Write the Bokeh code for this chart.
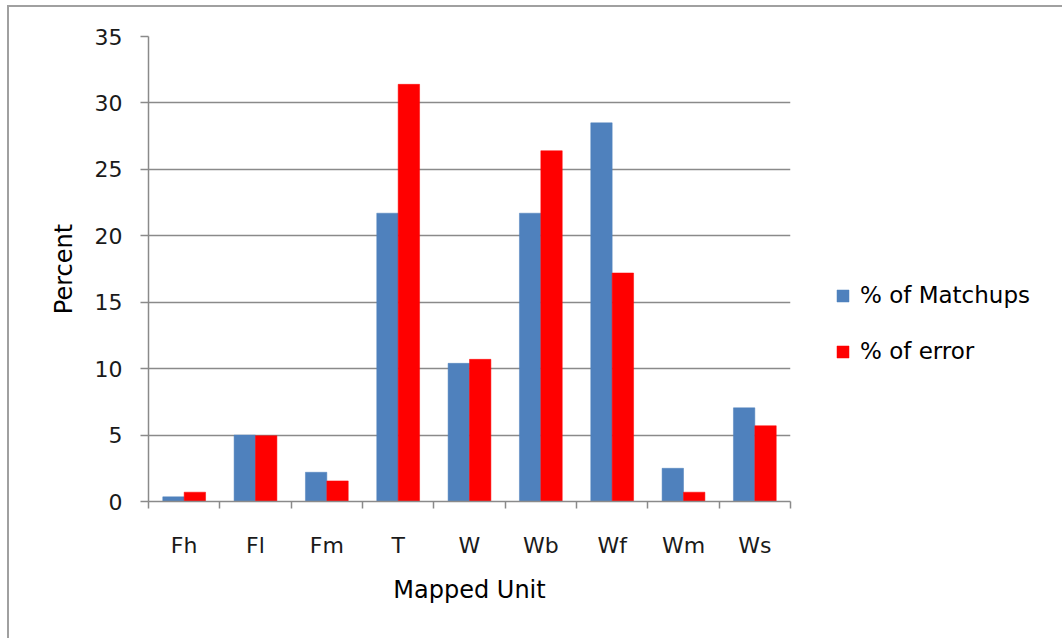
from bokeh.plotting import figure
from bokeh.models import (ColumnDataSource, Range1d, FixedTicker, Legend,
                          LegendItem)
from bokeh.transform import dodge
from bokeh.embed import file_html
from bokeh.resources import INLINE

# ---- data ----
categories = ["Fh", "Fl", "Fm", "T", "W", "Wb", "Wf", "Wm", "Ws"]
pct_matchups = [0.35, 5.0, 2.2, 21.7, 10.4, 21.7, 28.5, 2.5, 7.05]
pct_error = [0.7, 4.95, 1.55, 31.4, 10.7, 26.4, 17.2, 0.7, 5.7]
y_ticks = [0, 5, 10, 15, 20, 25, 30, 35]
series_names = ["% of Matchups", "% of error"]

BLUE = "#4F81BD"
RED = "#FF0000"
GRAY = "#8A8A8A"
FONT = "DejaVu Sans"

n = len(categories)
slot_centers = [i + 0.5 for i in range(n)]
slot_edges = list(range(n + 1))
src = ColumnDataSource(dict(x=slot_centers, cat=categories,
                            m=pct_matchups, e=pct_error))

p = figure(x_range=Range1d(0, n), y_range=Range1d(0, 35),
           frame_width=642, frame_height=465,
           min_border_left=139, min_border_right=20,
           min_border_top=29, min_border_bottom=137,
           toolbar_location=None, output_backend="svg")
p.outline_line_color = None
p.background_fill_color = "white"
p.border_fill_color = "white"
p.styles = {"border-left": "2px solid #a0a0a0", "border-top": "2px solid #a0a0a0",
            "margin-left": "7px", "margin-top": "5px"}

# gridlines
p.xgrid.grid_line_color = None
p.ygrid.grid_line_color = GRAY
p.ygrid.grid_line_width = 1.5
p.ygrid.ticker = FixedTicker(ticks=y_ticks)

# y axis
ya = p.yaxis[0]
ya.ticker = FixedTicker(ticks=y_ticks)
ya.axis_line_color = GRAY
ya.axis_line_width = 1.5
ya.major_tick_line_color = GRAY
ya.major_tick_line_width = 1.5
ya.major_tick_in = 0
ya.major_tick_out = 8
ya.minor_tick_line_color = None
ya.major_label_text_font = FONT
ya.major_label_text_font_size = "22px"
ya.major_label_text_color = "#1a1a1a"
ya.major_label_standoff = 18
ya.axis_label = "Percent"
ya.axis_label_text_font = FONT
ya.axis_label_text_font_size = "24px"
ya.axis_label_text_font_style = "normal"
ya.axis_label_text_color = "#000000"
ya.axis_label_standoff = 14

# x axis: labels at slot centres, Excel-style tick marks at slot edges
xa = p.xaxis[0]
xa.ticker = FixedTicker(ticks=slot_centers, minor_ticks=slot_edges)
xa.major_label_overrides = {c: lab for c, lab in zip(slot_centers, categories)}
xa.axis_line_color = GRAY
xa.axis_line_width = 1.5
xa.major_tick_line_color = None
xa.major_tick_in = 0
xa.major_tick_out = 0
xa.minor_tick_line_color = GRAY
xa.minor_tick_line_width = 1.5
xa.minor_tick_in = 0
xa.minor_tick_out = 7
xa.major_label_text_font = FONT
xa.major_label_text_font_size = "22px"
xa.major_label_text_color = "#1a1a1a"
xa.major_label_standoff = 24
xa.axis_label = "Mapped Unit"
xa.axis_label_text_font = FONT
xa.axis_label_text_font_size = "24px"
xa.axis_label_text_font_style = "normal"
xa.axis_label_text_color = "#000000"
xa.axis_label_standoff = 15

# bars
r1 = p.vbar(x=dodge("x", -0.15), top="m", width=0.3,
            source=src, fill_color=BLUE, line_color=BLUE, line_width=0.5)
r2 = p.vbar(x=dodge("x", 0.15), top="e", width=0.3,
            source=src, fill_color=RED, line_color=RED, line_width=0.5)

legend = Legend(items=[LegendItem(label=series_names[0], renderers=[r1]),
                       LegendItem(label=series_names[1], renderers=[r2])],
                location=(45, 137), orientation="vertical",
                glyph_width=15, glyph_height=15, label_standoff=10,
                spacing=30, padding=0, margin=0,
                border_line_color=None, background_fill_alpha=0,
                label_text_font=FONT, label_text_font_size="23px",
                label_text_color="#000000")
p.add_layout(legend, "right")

open("out.html", "w").write(file_html(p, INLINE))
